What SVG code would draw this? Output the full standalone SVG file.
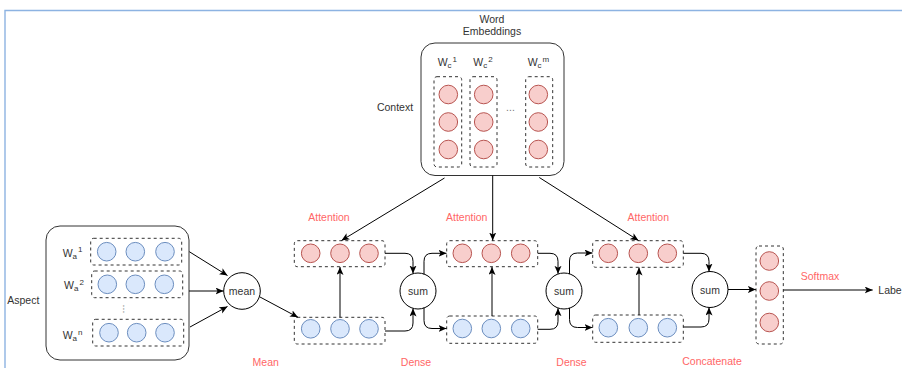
<svg xmlns="http://www.w3.org/2000/svg" width="902" height="368" viewBox="0 0 902 368">
<defs>
<style>
.t{font-family:"Liberation Sans",Arial,sans-serif;font-size:10.5px;fill:#333}
.c{text-anchor:middle;dominant-baseline:central}
.s{font-size:8px}
.red{font-family:"Liberation Sans",Arial,sans-serif;font-size:10.5px;fill:#ff6666;text-anchor:middle;dominant-baseline:central}
.frame{fill:none;stroke:#333;stroke-width:1}
.dash{fill:none;stroke:#333;stroke-width:1;stroke-dasharray:3 3}
.pk{fill:#f8cecc;stroke:#b85450;stroke-width:1}
.bl{fill:#dae8fc;stroke:#6c8ebf;stroke-width:1}
.op{fill:#fff;stroke:#000;stroke-width:1}
.e{fill:none;stroke:#000;stroke-width:1;marker-end:url(#ar)}
.pg{fill:none;stroke:#8db3e2;stroke-width:1.4}
</style>
<marker id="ar" markerUnits="userSpaceOnUse" markerWidth="10" markerHeight="8" refX="8" refY="3.5" orient="auto">
<path d="M0,0 L8,3.5 L0,7 L2,3.5 Z" fill="#000"/>
</marker>
</defs>
<rect width="902" height="368" fill="#fff"/>
<path class="pg" d="M5,368 L5,10.5 L902,10.5"/>

<g id="context">
<text class="t c" x="492" y="18.5">Word</text>
<text class="t c" x="492" y="31">Embeddings</text>
<text class="t c" x="395" y="107">Context</text>
<rect class="frame" x="421" y="43" width="143" height="132.5" rx="14"/>
<text class="t" x="437.7" y="65.5">W<tspan class="s" dy="2">c</tspan><tspan class="s" dx="1" dy="-6">1</tspan></text>
<text class="t" x="473.3" y="65.5">W<tspan class="s" dy="2">c</tspan><tspan class="s" dx="1" dy="-6">2</tspan></text>
<text class="t" x="527.7" y="65.5">W<tspan class="s" dy="2">c</tspan><tspan class="s" dx="1" dy="-6">m</tspan></text>
<rect class="dash" x="434" y="76.7" width="27.7" height="90.3" rx="3"/>
<rect class="dash" x="470" y="76.7" width="27" height="90.3" rx="3"/>
<rect class="dash" x="525.7" y="76.7" width="27" height="90.3" rx="3"/>
<circle class="pk" cx="448.3" cy="94.5" r="9.3"/>
<circle class="pk" cx="448.3" cy="122" r="9.3"/>
<circle class="pk" cx="448.3" cy="149.5" r="9.3"/>
<circle class="pk" cx="483.7" cy="94.5" r="9.3"/>
<circle class="pk" cx="483.7" cy="122" r="9.3"/>
<circle class="pk" cx="483.7" cy="149.5" r="9.3"/>
<circle class="pk" cx="538.3" cy="94.5" r="9.3"/>
<circle class="pk" cx="538.3" cy="122" r="9.3"/>
<circle class="pk" cx="538.3" cy="149.5" r="9.3"/>
<text class="t c" x="510.5" y="107" style="fill:#777">...</text>
</g>

<g id="aspect">
<text class="t c" x="23.3" y="300">Aspect</text>
<rect class="frame" x="46" y="226" width="143" height="134" rx="14"/>
<text class="t" x="62.7" y="256.5">W<tspan class="s" dy="2">a</tspan><tspan class="s" dx="1" dy="-6.6">1</tspan></text>
<text class="t" x="64" y="289.3">W<tspan class="s" dy="2">a</tspan><tspan class="s" dx="1" dy="-6.6">2</tspan></text>
<text class="t" x="62.7" y="339.3">W<tspan class="s" dy="2">a</tspan><tspan class="s" dx="1" dy="-6.6">n</tspan></text>
<rect class="dash" x="90.7" y="238.3" width="91" height="26.7" rx="3"/>
<rect class="dash" x="91.7" y="271" width="91" height="26.7" rx="3"/>
<rect class="dash" x="92.7" y="319.3" width="91" height="26.7" rx="3"/>
<circle class="bl" cx="106.7" cy="251.7" r="9.3"/>
<circle class="bl" cx="135.3" cy="251.7" r="9.3"/>
<circle class="bl" cx="165" cy="251.7" r="9.3"/>
<circle class="bl" cx="107.3" cy="284.3" r="9.3"/>
<circle class="bl" cx="135.3" cy="284.3" r="9.3"/>
<circle class="bl" cx="164.3" cy="284.3" r="9.3"/>
<circle class="bl" cx="109" cy="332.7" r="9.3"/>
<circle class="bl" cx="136.7" cy="332.7" r="9.3"/>
<circle class="bl" cx="165" cy="332.7" r="9.3"/>
<text class="t c" x="126.7" y="309" style="fill:#777" transform="rotate(90 126.7 309)">...</text>
</g>

<g id="mean">
<circle class="op" cx="242" cy="291" r="18.3"/>
<text class="t c" x="242" y="291">mean</text>
</g>

<g id="attention1">
<rect class="dash" x="294.3" y="240.7" width="90.7" height="26" rx="3"/>
<circle class="pk" cx="310.7" cy="253.3" r="9.3"/>
<circle class="pk" cx="340" cy="253.3" r="9.3"/>
<circle class="pk" cx="369" cy="253.3" r="9.3"/>
</g>
<g id="dense0">
<rect class="dash" x="294.3" y="317.3" width="90.7" height="26.7" rx="3"/>
<circle class="bl" cx="310.7" cy="328.8" r="9.3"/>
<circle class="bl" cx="340" cy="328.8" r="9.3"/>
<circle class="bl" cx="369" cy="328.8" r="9.3"/>
</g>
<g id="sum1">
<circle class="op" cx="418" cy="291" r="18"/>
<text class="t c" x="418" y="291">sum</text>
</g>
<g id="attention2">
<rect class="dash" x="446.7" y="240.7" width="91" height="26" rx="3"/>
<circle class="pk" cx="462.3" cy="253.3" r="9.3"/>
<circle class="pk" cx="491.3" cy="253.3" r="9.3"/>
<circle class="pk" cx="520.7" cy="253.3" r="9.3"/>
</g>
<g id="dense1">
<rect class="dash" x="446.7" y="316" width="91" height="27.3" rx="3"/>
<circle class="bl" cx="462.3" cy="328.5" r="9.3"/>
<circle class="bl" cx="491.3" cy="328.5" r="9.3"/>
<circle class="bl" cx="520.7" cy="328.5" r="9.3"/>
</g>
<g id="sum2">
<circle class="op" cx="564" cy="291" r="18"/>
<text class="t c" x="564" y="291">sum</text>
</g>
<g id="attention3">
<rect class="dash" x="592.7" y="240.7" width="90.6" height="26.6" rx="3"/>
<circle class="pk" cx="608.3" cy="253.3" r="9.3"/>
<circle class="pk" cx="638.3" cy="253.3" r="9.3"/>
<circle class="pk" cx="667.3" cy="253.3" r="9.3"/>
</g>
<g id="dense2">
<rect class="dash" x="592.7" y="315" width="90.6" height="27.3" rx="3"/>
<circle class="bl" cx="608.3" cy="327.7" r="9.3"/>
<circle class="bl" cx="638.3" cy="327.7" r="9.3"/>
<circle class="bl" cx="667.3" cy="327.7" r="9.3"/>
</g>
<g id="sum3">
<circle class="op" cx="710" cy="289.5" r="18"/>
<text class="t c" x="710" y="289.5">sum</text>
</g>
<g id="output">
<rect class="dash" x="756" y="246" width="27.3" height="98" rx="3"/>
<circle class="pk" cx="769.3" cy="261" r="9.3"/>
<circle class="pk" cx="769.3" cy="291" r="9.3"/>
<circle class="pk" cx="769.3" cy="322.5" r="9.3"/>
</g>
<g id="label">
<text class="t" x="878.3" y="290" dominant-baseline="central">Labe</text>
</g>

<g id="labels">
<text class="red" x="329" y="217.3">Attention</text>
<text class="red" x="466.7" y="217.3">Attention</text>
<text class="red" x="648.3" y="217.3">Attention</text>
<text class="red" x="265.7" y="361.5">Mean</text>
<text class="red" x="416" y="361.5">Dense</text>
<text class="red" x="571.5" y="361.5">Dense</text>
<text class="red" x="712" y="360.5">Concatenate</text>
<text class="red" x="820" y="276">Softmax</text>
</g>

<g id="connectors">
<path class="e" d="M189.3,251.7 L227.5,275.5"/>
<path class="e" d="M189,291 L223.5,291"/>
<path class="e" d="M190,327 L227.5,306.5"/>
<path class="e" d="M260,297 L298,317.3"/>
<path class="e" d="M444.5,178 L341.5,240.5"/>
<path class="e" d="M492.7,175.5 L492.7,240.5"/>
<path class="e" d="M539.3,177.5 L638.5,240.5"/>
<path class="e" d="M340,317.3 L340,266.9"/>
<path class="e" d="M492,316 L492,266.9"/>
<path class="e" d="M639,315 L639,267.5"/>
<path class="e" d="M385,253.3 L405,253.3 Q413,253.3 413,261.3 L413,273.5"/>
<path class="e" d="M385,331 L405,331 Q413,331 413,323 L413,308.5"/>
<path class="e" d="M424,274.5 L424,261.3 Q424,253.3 432,253.3 L446.5,253.3"/>
<path class="e" d="M424,307.5 L424,320.5 Q424,328.5 432,328.5 L446.5,328.5"/>
<path class="e" d="M537.7,253.3 L550,253.3 Q558,253.3 558,261.3 L558,273.8"/>
<path class="e" d="M537.7,329.3 L550,329.3 Q558,329.3 558,321.3 L558,308.2"/>
<path class="e" d="M569.5,274 L569.5,261 Q569.5,253 577.5,253 L592.5,253"/>
<path class="e" d="M569.5,308 L569.5,319.5 Q569.5,327.5 577.5,327.5 L592.5,327.5"/>
<path class="e" d="M683.3,253.3 L701,253.3 Q709,253.3 709,261.3 L709,271.5"/>
<path class="e" d="M683.3,327 L701,327 Q709,327 709,319 L709,307.5"/>
<path class="e" d="M728,289.5 L755.8,289.5"/>
<path class="e" d="M783.3,290 L872.7,290"/>
</g>
</svg>
